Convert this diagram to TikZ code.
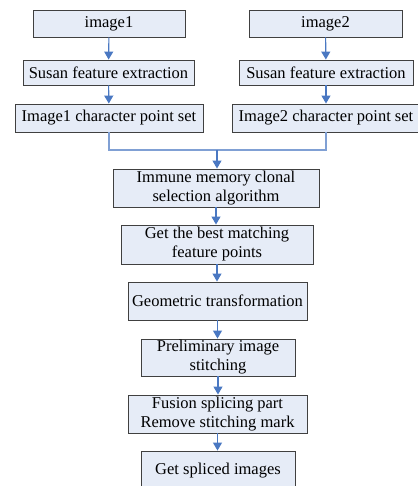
\documentclass[tikz,border=0pt]{standalone}
\usepackage{fontspec}
\setmainfont{Liberation Serif}
\usetikzlibrary{arrows.meta,positioning}
\definecolor{boxfill}{HTML}{E6ECF7}
\definecolor{arrowblue}{HTML}{4A78C2}
\definecolor{boxline}{HTML}{404040}
\tikzset{
  fbox/.style={draw=boxline, line width=0.9pt, fill=boxfill, inner sep=0pt, align=center,
    font=\fontsize{16.5}{19}\selectfont},
  flow/.style={draw=arrowblue, line width=1.1pt, -{Triangle[length=8pt,width=9pt]}},
  joinline/.style={draw=arrowblue!70, line width=1.1pt}
}
\begin{document}
\begin{tikzpicture}[x=1pt,y=-1pt]
\useasboundingbox (0,0) rectangle (417,486);
\node[fbox, minimum width=152pt, minimum height=27pt] (i1) at (109,23.5) {image1};
\node[fbox, minimum width=153pt, minimum height=27pt] (i2) at (325.5,23.5) {image2};
\node[fbox, minimum width=171pt, minimum height=25pt] (s1) at (108.5,72.5) {Susan feature extraction};
\node[fbox, minimum width=174pt, minimum height=25pt] (s2) at (326,72.5) {Susan feature extraction};
\node[fbox, minimum width=188pt, minimum height=28pt] (c1) at (109,118) {Image1 character point set};
\node[fbox, minimum width=188pt, minimum height=28pt] (c2) at (326,118) {Image2 character point set};
\node[fbox, minimum width=206pt, minimum height=38pt] (im) at (216,188) {Immune memory clonal\\selection algorithm};
\node[fbox, minimum width=192pt, minimum height=39pt] (gb) at (217,244.5) {Get the best matching\\feature points};
\node[fbox, minimum width=179pt, minimum height=38pt] (ge) at (217.5,301) {Geometric transformation};
\node[fbox, minimum width=154pt, minimum height=37pt] (pr) at (218,357.5) {Preliminary image\\stitching};
\node[fbox, minimum width=179pt, minimum height=38pt] (fu) at (217.5,414) {Fusion splicing part\\Remove stitching mark};
\node[fbox, minimum width=154pt, minimum height=40pt] (gs) at (218,471) {Get spliced images};
\coordinate (j) at (217,150);
\draw[flow] (i1) -- (s1);
\draw[flow] (i2) -- (s2);
\draw[flow] (s1) -- (c1);
\draw[flow] (s2) -- (c2);
\draw[joinline] (c1.south) |- (j);
\draw[joinline] (c2.south) |- (j);
\draw[flow] (j) -- (j |- im.north);
\draw[flow] (im) -- (im |- gb.north);
\draw[flow] (gb) -- (gb |- ge.north);
\draw[flow] (ge) -- (ge |- pr.north);
\draw[flow] (pr) -- (pr |- fu.north);
\draw[flow] (fu) -- (fu |- gs.north);
\end{tikzpicture}
\end{document}
